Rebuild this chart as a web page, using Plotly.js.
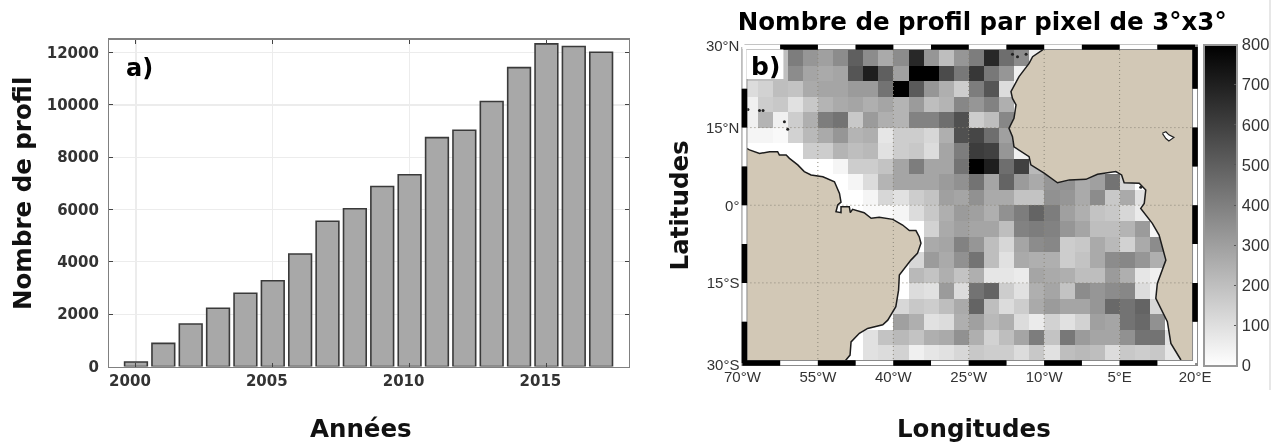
<!DOCTYPE html>
<html><head><meta charset="utf-8">
<script src="https://cdn.plot.ly/plotly-3.0.1.min.js"></script>
<style>html,body{margin:0;padding:0;background:#fff}#c{width:1274px;height:444px;filter:blur(0.4px)}</style>
</head><body><div id="c"></div>
<script>
// ---- panel a) ----
const years=[2000,2001,2002,2003,2004,2005,2006,2007,2008,2009,2010,2011,2012,2013,2014,2015,2016,2017];
const profiles=[170,885,1625,2225,2800,3280,4300,5550,6030,6880,7330,8750,9030,10130,11425,12333,12230,12015];
const yearTicks=[2000,2005,2010,2015];
const countTicks=[0,2000,4000,6000,8000,10000,12000];
// ---- panel b) : profiles per 3x3 degree pixel, north to south, from 70W eastward ----
const r00=[200,200,200,408,329,298,361,502,361,267,361,675,329,204,329,408,675,455,361,47];
const r01=[200,200,200,361,282,267,282,533,706,502,298,800,800,565,424,627,424,329,47];
const r02=[110,141,204,188,267,282,282,314,314,439,800,518,329,251,157,408,533,110];
const r03=[47,157,173,94,173,235,267,282,251,282,235,314,204,235,376,329,392,251];
const r04=[47,235,47,157,251,408,439,173,314,251,235,392,392,455,549,157,204,376];
const r05=[31,31,20,141,220,267,329,235,251,78,157,157,125,251,549,580,455,298];
const r06=[0,0,0,0,157,157,235,204,220,94,157,173,110,282,408,612,596,329,47];
const r07=[0,0,0,0,0,0,31,157,157,188,282,408,282,282,439,800,706,455,596,220];
const r08=[0,0,0,0,0,0,0,31,110,235,282,282,282,314,345,439,282,486,314,267,329,345,267,298,439,125];
const r09=[0,0,0,0,0,0,0,0,31,125,94,157,188,298,282,345,267,267,188,188,345,329,267,361,173,267,94];
const r10=[0,0,0,0,0,0,0,0,16,16,31,110,173,251,314,298,251,345,408,486,408,298,251,188,173,125,63];
const r11=[0,0,0,0,0,0,0,0,0,0,0,0,141,267,298,282,282,204,392,408,392,329,282,204,204,235,314,31];
const r12=[0,0,0,0,0,0,0,0,0,0,0,0,267,282,392,329,204,125,282,361,376,157,173,267,220,141,267,361];
const r13=[0,0,0,0,0,0,0,0,0,0,0,125,314,267,345,439,204,94,267,251,251,157,188,267,361,376,329,251];
const r14=[0,0,0,0,0,0,0,0,0,0,0,220,188,251,188,251,78,78,63,282,267,251,204,204,314,251,78,47];
const r15=[0,0,0,0,0,0,0,0,0,0,0,110,94,314,110,439,486,157,94,251,282,188,361,329,361,376,110,47];
const r16=[0,0,0,0,0,0,0,0,0,0,125,173,157,204,267,486,204,110,157,267,314,282,282,329,471,439,486,125];
const r17=[0,0,0,0,0,0,0,0,0,0,298,251,94,110,251,298,220,251,110,63,141,94,141,298,282,439,471,345];
const r18=[0,0,0,0,0,0,0,0,94,188,220,188,251,267,345,251,141,204,282,408,188,424,314,282,282,345,439,439,94];
const r19=[0,0,0,0,0,0,0,0,94,110,141,47,78,94,125,173,157,157,110,173,94,204,220,204,110,173,157,173,78,0];
const pixelRows=[r00,r01,r02,r03,r04,r05,r06,r07,r08,r09,r10,r11,r12,r13,r14,r15,r16,r17,r18,r19];
// coastlines, lon / lat
const saLon=[-70,-68.6,-66.6,-64.6,-63,-62.65,-61.3,-60.65,-59,-57.7,-56.35,-54,-51.7,-50.7,-50.4,-51.05,-51.4,-50.4,-50.4,-48.75,-48.55,-48.1,-45.8,-44.4,-42.8,-40.1,-38.15,-36.8,-35.5,-34.85,-34.5,-35.2,-36.5,-38.15,-38.8,-38.95,-39.5,-41.1,-42.1,-45.1,-46.75,-48.4,-48.6,-49.5];
const saLat=[11.4,10.7,10,10.35,10.35,9.7,9.7,9.06,7.8,6.5,5.85,5.5,4.55,2.3,0.6,0.05,-1.25,-1.44,-0.28,-0.28,-1.44,-0.8,-1.44,-2.53,-2.34,-2.73,-3.82,-4.9,-4.9,-6.07,-7.36,-9.3,-10.6,-12.84,-13.5,-16.4,-19.6,-22.2,-23.1,-23.8,-24.75,-26.4,-28.95,-30];
const afLon=[-10.3,-12.3,-13,-15,-16.6,-16.3,-15.6,-16,-17,-16.3,-16,-13,-12.65,-10,-7.35,-5,-1.7,0.6,4.25,5.4,5.9,8.9,10.2,9.9,9.2,11.5,12.85,14.2,12.5,12.2,14.5,15.2,17.2];
const afLat=[30,28.7,27.4,24.85,21.95,20.65,19.4,16.8,14.85,13.25,11.3,9.4,7.8,6.2,4.35,4.9,5,6,6.5,5.85,4.35,4.25,2.95,0.35,-0.6,-3.5,-5.75,-10.6,-15.1,-18,-22.5,-26.7,-29.9];
const lakeLon=[13.5,14.2,14.8,15.8,14.8,14.2,13.5];
const lakeLat=[13.9,14.2,13.6,13.1,12.4,12.9,13.9];
const isleLon=[-68.9,-66.6,-65.9,-61.65,-61,-16.3,-15.3,-13.6,9.2];
const isleLat=[18.5,18.3,18.3,16.15,14.67,29.2,28.7,29.2,3.5];
const lonTicks=[-70,-55,-40,-25,-10,5,20];
const lonLabels=['70°W','55°W','40°W','25°W','10°W','5°E','20°E'];
const latTicks=[30.75,15,0,-15,-30.75];
const latLabels=['30°N','15°N','0°','15°S','30°S'];
const gridLons=[-55,-40,-25,-10,5];
const gridLats=[15,0,-15];
const cbTicks=[0,100,200,300,400,500,600,700,800];
const frameLons=[-70,-62.5,-55,-47.5,-40,-32.5,-25,-17.5,-10,-2.5,5,12.5,20];
const frameLats=[30.58,22.5,15,7.5,0,-7.5,-15,-22.5,-30.48];

const W=1274,H=444;
const px=v=>v/W, py=v=>1-v/H;
const dv='"DejaVu Sans", sans-serif', lib='"Liberation Sans", Arial, sans-serif';
const zRows=pixelRows.map(r=>{const o=r.slice();while(o.length<30)o.push(null);return o;});

const edgeX=-69.6,edgeE=20,edgeN=30.58,edgeS=-30.48;
function bands(first){
  const xs=[],ys=[];
  function add(x0,y0,x1,y1){xs.push(x0,x1,null);ys.push(y0,y1,null);}
  for(let i=0;i<frameLons.length-1;i++){
    const top=(i%2===0)?'w':'k', bot=(i%2===0)?'k':'w';
    if(top===first)add(frameLons[i],edgeN,frameLons[i+1],edgeN);
    if(bot===first)add(frameLons[i],edgeS,frameLons[i+1],edgeS);
  }
  for(let i=0;i<frameLats.length-1;i++){
    const left=(i%2===0)?'w':'k', right=(i%2===0)?'k':'w';
    if(left===first)add(edgeX,frameLats[i],edgeX,frameLats[i+1]);
    if(right===first)add(edgeE,frameLats[i],edgeE,frameLats[i+1]);
  }
  return {x:xs,y:ys};
}
const gridX=[],gridY=[];
gridLons.forEach(l=>{gridX.push(l,l,null);gridY.push(30,-30,null);});
gridLats.forEach(l=>{gridX.push(-70,20,null);gridY.push(l,l,null);});
const frameAll={x:[edgeX,edgeE,edgeE,edgeX,edgeX],y:[edgeN,edgeN,edgeS,edgeS,edgeN]};
const k=bands('k'),w=bands('w');
const m={xaxis:'x2',yaxis:'y2',hoverinfo:'skip',showlegend:false};

const data=[
 {type:'bar',x:years,y:profiles,width:0.83,marker:{color:'#a8a8a8',line:{color:'#3a3a3a',width:1.6}},showlegend:false},
 Object.assign({type:'heatmap',z:zRows,x0:-68.5,dx:3,y0:28.5,dy:-3,zmin:0,zmax:800,xgap:0,ygap:0,
   colorscale:[[0,'#ffffff'],[1,'#000000']],
   colorbar:{x:px(1204),xanchor:'left',xpad:0,y:py(44.5),yanchor:'top',ypad:0,lenmode:'pixels',len:321,thicknessmode:'pixels',thickness:33,
     tickvals:cbTicks,ticks:'inside',ticklen:4,tickcolor:'#555',tickwidth:1,outlinecolor:'#999',outlinewidth:2,
     tickfont:{family:lib,size:16.5,color:'#333'},ticklabelposition:'outside'}},m),
 Object.assign({type:'scatter',mode:'lines',x:saLon.concat([-70,-70]),y:saLat.concat([-30,11.4]),fill:'toself',fillcolor:'#d2c8b6',line:{width:0}},m),
 Object.assign({type:'scatter',mode:'lines',x:afLon.concat([20,20,-10.3]),y:afLat.concat([-30,30,30]),fill:'toself',fillcolor:'#d2c8b6',line:{width:0}},m),
 Object.assign({type:'scatter',mode:'lines',x:gridX,y:gridY,line:{color:'#8a8578',width:1,dash:'1px,3px'}},m),
 Object.assign({type:'scatter',mode:'lines',x:lakeLon,y:lakeLat,fill:'toself',fillcolor:'#ffffff',line:{color:'#222',width:1.2}},m),
 Object.assign({type:'scatter',mode:'lines',x:saLon,y:saLat,line:{color:'#1c1c1c',width:1.5}},m),
 Object.assign({type:'scatter',mode:'lines',x:afLon,y:afLat,line:{color:'#1c1c1c',width:1.5}},m),
 Object.assign({type:'scatter',mode:'markers',x:isleLon,y:isleLat,marker:{color:'#222',size:3}},m),
 Object.assign({type:'scatter',mode:'lines',x:frameAll.x,y:frameAll.y,line:{color:'#8a8a8a',width:6}},m),
 Object.assign({type:'scatter',mode:'lines',x:w.x,y:w.y,line:{color:'#ffffff',width:4}},m),
 Object.assign({type:'scatter',mode:'lines',x:k.x,y:k.y,line:{color:'#000000',width:5.5}},m)
];

const axisTitleFont={family:dv,size:24.5,weight:700,color:'#111'};
const layout={
 width:W,height:H,margin:{l:0,r:0,t:0,b:0},paper_bgcolor:'#fff',plot_bgcolor:'#fff',showlegend:false,
 title:{text:'Nombre de profil par pixel de 3°x3°',x:px(983),y:py(21),xanchor:'center',yanchor:'middle',xref:'paper',yref:'paper',
   font:{family:dv,size:24.5,weight:700,color:'#000'}},
 xaxis:{domain:[px(109.5),px(629)],range:[1999.03,2018],tickvals:yearTicks,ticks:'inside',ticklen:4,tickcolor:'#444',
   showgrid:true,gridcolor:'#ececec',gridwidth:1.2,showline:true,linecolor:'#808080',linewidth:1.5,mirror:'ticks',zeroline:false,
   tickfont:{family:dv,size:15,weight:700,color:'#333'},ticklabelshift:-6},
 yaxis:{domain:[py(366.5),py(39.5)],range:[0,12500],tickvals:countTicks,ticks:'inside',ticklen:4,tickcolor:'#444',
   showgrid:true,gridcolor:'#ececec',gridwidth:1.2,showline:true,linecolor:'#808080',linewidth:1.5,mirror:'ticks',zeroline:false,
   tickformat:'d',ticklabelstandoff:6,tickfont:{family:dv,size:15,weight:700,color:'#333'}},
 xaxis2:{anchor:'y2',domain:[px(741),px(1199)],range:[-70.4,20.6],tickvals:lonTicks,ticktext:lonLabels,ticks:'',showgrid:false,zeroline:false,showline:false,
   tickfont:{family:lib,size:15,color:'#333'}},
 yaxis2:{anchor:'x2',domain:[py(366),py(44.5)],range:[-31.06,31.06],tickvals:latTicks,ticktext:latLabels,ticks:'',showgrid:false,zeroline:false,showline:false,
   tickfont:{family:lib,size:15,color:'#333'}},
 shapes:[
  {type:'rect',xref:'x2',yref:'y2',x0:-69.2,x1:-61.85,y0:24.4,y1:30.1,fillcolor:'#fff',line:{width:0},layer:'above'},
  {type:'line',xref:'paper',yref:'paper',x0:px(1271),x1:px(1271),y0:py(0),y1:py(390),line:{color:'#cfcfcf',width:1}}
 ],
 annotations:[
  {xref:'paper',yref:'paper',x:px(124),y:py(68),xanchor:'left',yanchor:'middle',text:'a)',showarrow:false,font:{family:dv,size:24,weight:700,color:'#000'}},
  {xref:'paper',yref:'paper',x:px(750),y:py(66),xanchor:'left',yanchor:'middle',text:'b)',showarrow:false,font:{family:dv,size:25,weight:700,color:'#000'}},
  {xref:'paper',yref:'paper',x:px(361),y:py(428),xanchor:'center',yanchor:'middle',text:'Années',showarrow:false,font:axisTitleFont},
  {xref:'paper',yref:'paper',x:px(975),y:py(428),xanchor:'center',yanchor:'middle',text:'Longitudes',showarrow:false,font:axisTitleFont},
  {xref:'paper',yref:'paper',x:px(22),y:py(193),xanchor:'center',yanchor:'middle',text:'Nombre de profil',textangle:-90,showarrow:false,font:axisTitleFont},
  {xref:'paper',yref:'paper',x:px(680),y:py(205),xanchor:'center',yanchor:'middle',text:'Latitudes',textangle:-90,showarrow:false,font:axisTitleFont}
 ]
};
Plotly.newPlot('c',data,layout,{displayModeBar:false,staticPlot:true});
</script></body></html>
